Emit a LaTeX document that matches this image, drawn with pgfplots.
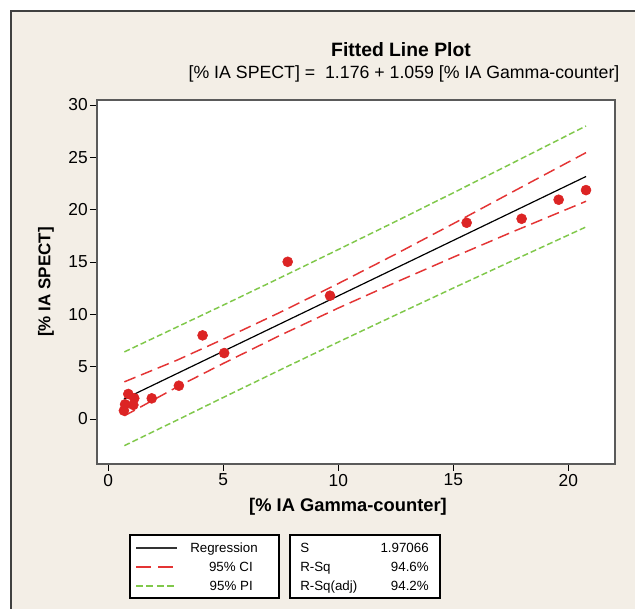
\documentclass[border=0pt]{standalone}
\usepackage{fontspec}
\setmainfont{Liberation Sans}
\usepackage{pgfplots}
\pgfplotsset{compat=1.18}

\definecolor{bg}{RGB}{243,238,230}
\definecolor{ptred}{RGB}{220,36,36}
\definecolor{cired}{RGB}{228,52,52}
\definecolor{pigreen}{RGB}{128,200,74}
\definecolor{boxgray}{RGB}{90,90,90}

\begin{document}
\begin{tikzpicture}
\useasboundingbox (-72.75pt,-108.75pt) rectangle (403.5pt,348pt);
\fill[white] (-72.75pt,-108.75pt) rectangle (403.5pt,348pt);
\fill[bg] (-64.5pt,-108.75pt) rectangle (403.5pt,339.75pt);
\draw[line width=1.5pt, black!75] (-64.5pt,-110pt) -- (-64.5pt,339.75pt) -- (405pt,339.75pt);

\begin{axis}[
  at={(0pt,0pt)}, anchor=south west,
  scale only axis,
  width=388.5pt, height=273pt,
  xmin=-0.49, xmax=22.03,
  ymin=-4.3, ymax=30.48,
  xtick={0,5,10,15,20},
  ytick={0,5,10,15,20,25,30},
  tick align=outside,
  xtick pos=bottom, ytick pos=left,
  major tick length=5.25pt,
  axis line style={boxgray, line width=1.1pt},
  tick style={black, line width=0.7pt},
  axis background/.style={fill=white},
  /pgf/number format/assume math mode=true,
  ticklabel style={font=\fontsize{13}{15}\selectfont},
  yticklabel style={inner sep=1.5pt},
  xticklabel style={inner sep=2pt},
  xlabel={[\% IA Gamma-counter]},
  ylabel={[\% IA SPECT]},
  xlabel style={font=\bfseries\fontsize{13.75}{16}\selectfont, at={(axis description cs:0.5,0)}, anchor=center, yshift=-32.25pt, xshift=-6pt},
  ylabel style={font=\bfseries\fontsize{12.75}{15}\selectfont, at={(axis description cs:0,0.5)}, anchor=center, yshift=38.25pt},
]

% 95% PI
\addplot[pigreen, line width=1.1pt, dash pattern=on 4.5pt off 2.25pt] coordinates {
(0.70,6.41) (3,8.80) (5,10.88) (7.5,13.52) (10,16.19) (12.5,18.88) (15,21.61) (17.5,24.37) (20.77,28.00)};
\addplot[pigreen, line width=1.1pt, dash pattern=on 4.5pt off 2.25pt] coordinates {
(0.70,-2.55) (3,-0.10) (5,2.06) (7.5,4.72) (10,7.35) (12.5,9.94) (15,12.51) (17.5,15.05) (20.77,18.35)};

% 95% CI
\addplot[cired, line width=1.1pt, dash pattern=on 9pt off 4.5pt] coordinates {
(0.70,3.55) (3,5.63) (5,7.63) (7.5,10.22) (10,12.94) (12.5,15.76) (15,18.66) (17.5,21.61) (20.77,25.45)};
\addplot[cired, line width=1.1pt, dash pattern=on 9pt off 4.5pt] coordinates {
(0.70,0.30) (3,3.07) (5,5.31) (7.5,8.02) (10,10.60) (12.5,13.06) (15,15.46) (17.5,17.81) (20.77,20.80)};

% regression
\addplot[black, line width=0.9pt] coordinates {(0.68,1.896) (20.77,23.171)};

% observations
\addplot[only marks, mark=*, mark size=3.75pt, mark options={fill=ptred, draw=ptred}] coordinates {
(0.68,0.80) (0.73,1.40) (0.87,2.39) (1.09,1.34) (1.13,1.98)
(1.89,1.97) (3.07,3.18) (4.10,7.99) (5.04,6.30) (7.80,15.02)
(9.64,11.78) (15.58,18.75) (17.97,19.13) (19.58,20.95) (20.77,21.87)};
\end{axis}

% titles
\node[anchor=base, font=\bfseries\fontsize{14.5}{17}\selectfont] at (228pt,305.25pt) {Fitted Line Plot};
\node[anchor=base, font=\fontsize{13.3}{15}\selectfont] at (230.25pt,288.75pt) {[\% IA SPECT] =\ \ 1.176 + 1.059 [\% IA Gamma-counter]};

% legend panel
\draw[black, line width=0.9pt, fill=white] (24.75pt,-53.25pt) rectangle (136.5pt,-100.5pt);
\draw[black!80, line width=0.9pt] (29.25pt,-63pt) -- (60pt,-63pt);
\draw[cired, line width=1.1pt, dash pattern=on 11pt off 5.5pt] (29.25pt,-77.25pt) -- (56.75pt,-77.25pt);
\draw[pigreen, line width=1.1pt, dash pattern=on 5.25pt off 2.6pt] (29.25pt,-91.5pt) -- (60pt,-91.5pt);
\begin{scope}[every node/.style={inner sep=0pt, font=\fontsize{10}{12}\selectfont}]
\node[anchor=base east] at (120.75pt,-66.5pt) {Regression};
\node[anchor=base east] at (117pt,-80.75pt) {95\% CI};
\node[anchor=base east] at (117pt,-95pt) {95\% PI};
\end{scope}

% summary panel
\draw[black, line width=0.9pt, fill=white] (144.75pt,-53.25pt) rectangle (257.25pt,-100.5pt);
\begin{scope}[every node/.style={inner sep=0pt, font=\fontsize{10}{12}\selectfont}]
\node[anchor=base west] at (152.25pt,-66.5pt) {S};
\node[anchor=base west] at (152.25pt,-80.75pt) {R-Sq};
\node[anchor=base west] at (152.25pt,-95pt) {R-Sq(adj)};
\node[anchor=base east] at (249pt,-66.5pt) {1.97066};
\node[anchor=base east] at (249pt,-80.75pt) {94.6\%};
\node[anchor=base east] at (249pt,-95pt) {94.2\%};
\end{scope}
\end{tikzpicture}
\end{document}
